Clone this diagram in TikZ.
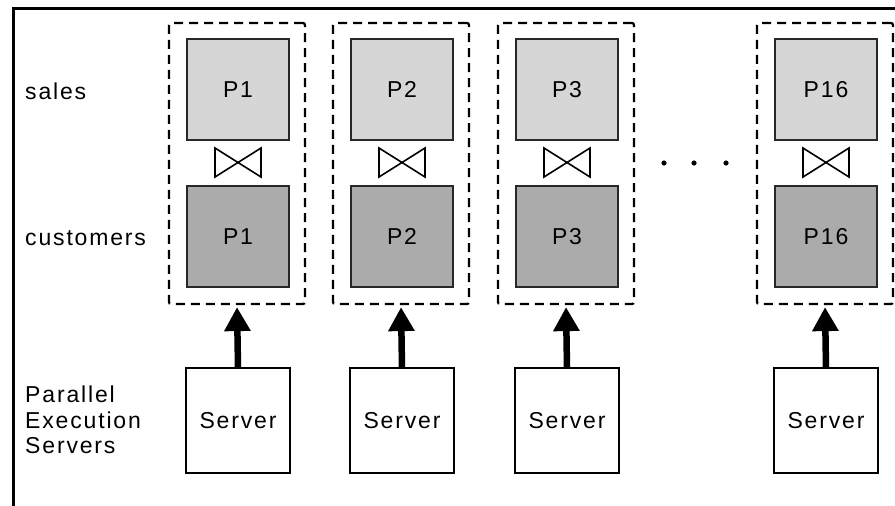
\documentclass[tikz,border=0pt]{standalone}
\usepackage{fontspec}
\setmainfont{Liberation Sans}[LetterSpace=8]
\usetikzlibrary{arrows.meta}
\definecolor{salesfill}{RGB}{214,214,214}
\definecolor{custfill}{RGB}{171,171,171}
\definecolor{edge}{RGB}{40,40,40}
\begin{document}
\begin{tikzpicture}[x=1pt,y=-1pt,
  lbl/.style={font=\fontsize{23}{25.5}\selectfont},
  part/.style={lbl, draw=edge, line width=1.8pt, minimum width=102pt, minimum height=101pt, inner sep=0pt},
  salespart/.style={part, fill=salesfill},
  custpart/.style={part, fill=custfill},
  groupbox/.style={draw, line width=2.2pt, dash pattern=on 9pt off 6pt, rounded corners=2pt,
    minimum width=136pt, minimum height=281pt, inner sep=0pt},
  serverbox/.style={lbl, draw, line width=1.5pt, minimum width=104pt, minimum height=105pt, inner sep=0pt},
  feed/.style={line width=6.5pt, -{Triangle[length=24pt,width=25pt]}, shorten >=2pt},
  bowtie/.style={draw, line width=1.6pt, line join=miter},
  sidelabel/.style={lbl, anchor=west, inner sep=0pt, align=left}
]
\useasboundingbox (0,0) rectangle (895,506);
% frame on the top and left edges
\draw[line width=2.5pt] (13.5,506) -- (13.5,8.5) -- (895,8.5);

% row labels
\node[sidelabel] (lsales) at (25,91) {sales};
\node[sidelabel] (lcust) at (25,238) {customers};
\node[sidelabel] (lserv) at (25,420) {Parallel\\Execution\\Servers};

% one column per partition pair and its server
\foreach \cx/\n/\k in {237/1/a,401/2/b,566/3/c,825/16/d}{
  \node[groupbox] (g\k) at (\cx,163.5) {};
  \node[salespart] (s\k) at (\cx+1,89.5) {P\n};
  \node[custpart] (c\k) at (\cx+1,236.5) {P\n};
  \draw[bowtie] (\cx-22,148) -- (\cx+24,177) -- (\cx+24,148) -- (\cx-22,177) -- cycle;
  \node[serverbox] (v\k) at (\cx+1,420.5) {Server};
  \draw[feed] (v\k.north) -- (g\k.south);
}

% ellipsis between the third and the last column
\foreach \dx in {664,694,726}
  \fill (\dx,163) circle (2.6pt);
\end{tikzpicture}
\end{document}
